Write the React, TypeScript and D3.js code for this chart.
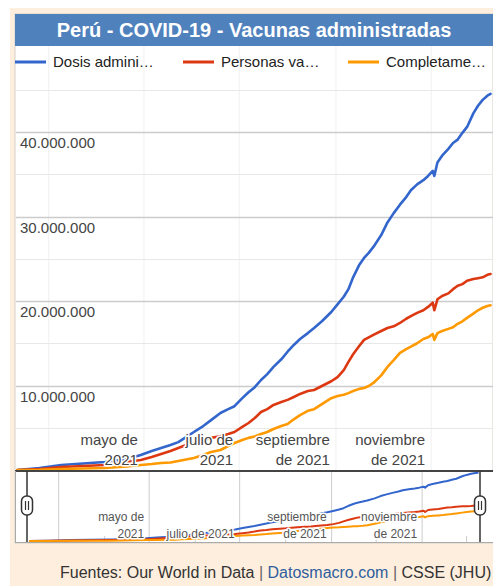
import React from 'react'
import * as d3 from 'd3'

// fechas de los datos (2021)
const fechas = [
  '2021-02-09', '2021-02-23', '2021-03-09', '2021-03-23', '2021-04-06', '2021-04-20', '2021-04-29',
  '2021-05-06', '2021-05-12', '2021-05-18', '2021-05-23', '2021-05-28', '2021-06-02', '2021-06-08',
  '2021-06-13', '2021-06-19', '2021-06-24', '2021-06-28', '2021-07-03', '2021-07-07', '2021-07-11',
  '2021-07-15', '2021-07-19', '2021-07-23', '2021-07-28', '2021-08-01', '2021-08-05', '2021-08-09',
  '2021-08-14', '2021-08-18', '2021-08-23', '2021-08-29', '2021-09-02', '2021-09-06', '2021-09-09',
  '2021-09-12', '2021-09-16', '2021-09-19', '2021-09-22', '2021-09-25', '2021-09-30', '2021-10-04',
  '2021-10-08', '2021-10-12', '2021-10-16', '2021-10-19', '2021-10-23', '2021-10-27', '2021-10-30',
  '2021-11-02', '2021-11-03', '2021-11-05', '2021-11-08', '2021-11-12', '2021-11-15', '2021-11-18',
  '2021-11-21', '2021-11-24', '2021-11-28', '2021-12-01', '2021-12-04', '2021-12-07', '2021-12-09',
]

// millones
const dosisAdministradas = [
  0, 0.24, 0.59, 0.77, 0.95, 1.3, 1.78,
  2.25, 2.6, 2.96, 3.3, 3.9, 4.5, 5.2,
  5.9, 6.75, 7.2, 7.55, 8.5, 9.2, 9.8,
  10.65, 11.35, 12.2, 13.1, 14.0, 14.8, 15.5,
  16.2, 16.8, 17.6, 18.7, 19.6, 20.5, 21.4,
  22.8, 24.3, 25.1, 25.7, 26.4, 27.8, 29.3,
  30.4, 31.4, 32.3, 33.1, 33.8, 34.3, 34.8,
  35.4, 34.8, 36.4, 37.2, 38.0, 38.7, 39.1,
  39.9, 40.6, 42.2, 43.1, 43.8, 44.3, 44.5,
]

const personasVacunadas = [
  0, 0.12, 0.36, 0.47, 0.6, 0.95, 1.18,
  1.54, 1.9, 2.25, 2.6, 2.96, 3.2, 3.55,
  3.8, 4.0, 4.26, 4.5, 5.1, 5.56, 6.15,
  6.86, 7.2, 7.7, 8.05, 8.3, 8.64, 9.0,
  9.35, 9.47, 9.94, 10.5, 11.0, 11.83, 12.8,
  13.7, 14.7, 15.4, 15.7, 16.0, 16.45, 16.8,
  17.0, 17.4, 17.9, 18.2, 18.6, 18.9, 19.3,
  19.8, 18.9, 20.2, 20.6, 20.9, 21.4, 21.8,
  22.0, 22.4, 22.6, 22.7, 22.8, 23.1, 23.2,
]

const completamenteVacunadas = [
  0, 0.03, 0.12, 0.18, 0.24, 0.41, 0.6,
  0.71, 0.83, 0.89, 1.07, 1.24, 1.42, 1.78,
  2.13, 2.37, 2.84, 3.2, 3.55, 3.8, 3.96,
  4.26, 4.5, 4.85, 5.2, 5.44, 6.0, 6.5,
  7.0, 7.2, 7.8, 8.5, 8.75, 8.9, 9.1,
  9.35, 9.6, 9.7, 9.94, 10.3, 11.2, 12.2,
  13.0, 13.85, 14.3, 14.6, 15.0, 15.5, 15.7,
  16.1, 15.4, 16.2, 16.45, 16.7, 16.9, 17.3,
  17.6, 18.0, 18.5, 18.9, 19.2, 19.4, 19.5,
]

const series = ['Dosis admini…', 'Personas va…', 'Completame…']
const colores = ['#3366cc', '#dc3912', '#ff9900']
const ticksY = [10, 20, 30, 40]
const etiquetasX = [
  { mes: '2021-05-01', lineas: ['mayo de', '2021'] },
  { mes: '2021-07-01', lineas: ['julio de', '2021'] },
  { mes: '2021-09-01', lineas: ['septiembre', 'de 2021'] },
  { mes: '2021-11-01', lineas: ['noviembre', 'de 2021'] },
]
const etiquetasNav = [
  { mes: '2021-05-01', lineas: ['mayo de', '2021'] },
  { mes: '2021-07-01', lineas: ['julio de 2021'] },
  { mes: '2021-09-01', lineas: ['septiembre', 'de 2021'] },
  { mes: '2021-11-01', lineas: ['noviembre', 'de 2021'] },
]

const W = 493
const H = 586
const FONT = 'Arial, "Liberation Sans", sans-serif'

const App = () => {
  const parse = d3.timeParse('%Y-%m-%d')
  const dates = fechas.map((f) => parse(f) as Date)
  const valores = [dosisAdministradas, personasVacunadas, completamenteVacunadas]
  const dominio = d3.extent(dates) as [Date, Date]

  const fmt = d3.formatLocale({ decimal: ',', thousands: '.', grouping: [3], currency: ['', ''] }).format(',')

  // grafico principal
  const x = d3.scaleTime().domain(dominio).range([17.5, 490.5])
  const y = d3.scaleLinear().domain([0, 50]).range([470, 47.5])
  // navegador
  const xn = d3.scaleTime().domain(dominio).range([29, 478.5])
  const yn = d3.scaleLinear().domain([0, 45]).range([541, 472])

  const linea = d3.line<number>().x((d, i) => x(dates[i])).y((d) => y(d))
  const lineaNav = d3.line<number>().x((d, i) => xn(dates[i])).y((d) => yn(d))

  const meses2 = d3.timeMonth.every(2)!.range(d3.timeMonth.floor(dominio[0]), dominio[1])
  const meses = d3.timeMonth.range(d3.timeMonth.ceil(dominio[0]), dominio[1])
  const gridY = d3.range(5, 50, 5)

  return (
    <div style={{ position: 'absolute', left: 0, top: 0 }}>
      <svg width={W} height={H} style={{ display: 'block', fontFamily: FONT }}>
        <rect x={0} y={0} width={W} height={H} fill="#fff" />
        <rect x={10} y={8} width={W - 10} height={H - 8} fill="#fdeedd" />
        <rect x={15} y={14} width={W - 15} height={529} fill="#fff" stroke="#d6d0c8" strokeWidth={1} />

        {/* titulo */}
        <rect x={15} y={14} width={W - 15} height={32} fill="#4f81bd" />
        <text x={254} y={36.5} textAnchor="middle" fill="#fff" fontWeight="bold" fontSize={20}>
          Perú - COVID-19 - Vacunas administradas
        </text>

        {/* rejilla */}
        {meses2.map((m, i) => (
          <line key={'v' + i} x1={x(m)} x2={x(m)} y1={46} y2={470} stroke="#f0f0f0" />
        ))}
        {gridY.map((v) => (
          <line key={'h' + v} x1={16} x2={W} y1={Math.round(y(v)) + 0.5} y2={Math.round(y(v)) + 0.5}
            stroke={v % 10 === 0 ? '#cccccc' : '#e8e8e8'} strokeWidth={v % 10 === 0 ? 1.5 : 1} />
        ))}

        {/* leyenda */}
        {series.map((s, i) => {
          const lx = [15, 183, 348][i]
          return (
            <g key={s}>
              <line x1={lx} x2={lx + 31} y1={62} y2={62} stroke={colores[i]} strokeWidth={3} />
              <text x={lx + 38} y={67} fontSize={15} fill="#222">{s}</text>
            </g>
          )
        })}

        {/* etiquetas eje Y */}
        {ticksY.map((v) => (
          <text key={v} x={20} y={y(v) + 16} fontSize={15} fill="#444">{fmt(v * 1e6)}</text>
        ))}

        {/* lineas */}
        {valores.map((vals, i) => (
          <path key={i} d={linea(vals) || ''} fill="none" stroke={colores[i]} strokeWidth={2.6}
            strokeLinejoin="round" strokeLinecap="round" />
        ))}

        {/* etiquetas eje X */}
        {etiquetasX.map((e) => {
          const px = x(parse(e.mes) as Date) - 6
          return (
            <text key={e.mes} textAnchor="end" fontSize={15} fill="#444" stroke="#fff" strokeWidth={3}
              paintOrder="stroke" strokeLinejoin="round">
              {e.lineas.map((l, j) => (
                <tspan key={j} x={px} y={445 + j * 20}>{l}</tspan>
              ))}
            </text>
          )
        })}

        {/* navegador */}
        <rect x={15} y={471} width={W - 15} height={71} fill="#fff" />
        {meses.map((m, i) => {
          const mayor = m.getMonth() % 2 === 0
          return mayor ? (
            <line key={'n' + i} x1={xn(m)} x2={xn(m)} y1={471} y2={542} stroke="#cccccc" />
          ) : (
            <line key={'n' + i} x1={xn(m)} x2={xn(m)} y1={536} y2={542} stroke="#cccccc" />
          )
        })}
        {valores.map((vals, i) => (
          <path key={'nl' + i} d={lineaNav(vals) || ''} fill="none" stroke={colores[i]} strokeWidth={2}
            strokeLinejoin="round" />
        ))}
        {etiquetasNav.map((e) => {
          const px = xn(parse(e.mes) as Date) - 5
          const base = e.lineas.length === 2 ? 521 : 537.5
          return (
            <text key={'en' + e.mes} textAnchor="end" fontSize={12} fill="#555" stroke="#fff" strokeWidth={3}
              paintOrder="stroke" strokeLinejoin="round">
              {e.lineas.map((l, j) => (
                <tspan key={j} x={px} y={base + j * 16.5}>{l}</tspan>
              ))}
            </text>
          )
        })}
        <line x1={15} x2={W} y1={471} y2={471} stroke="#444" strokeWidth={2} />
        <line x1={15} x2={W} y1={542.5} y2={542.5} stroke="#aaa" strokeWidth={1} />
        <line x1={15.5} x2={15.5} y1={471} y2={543} stroke="#aaa" strokeWidth={1} />
        {[27, 480].map((hx) => (
          <g key={'h' + hx}>
            <line x1={hx} x2={hx} y1={471} y2={542} stroke="#333" strokeWidth={1.5} />
            <rect x={hx - 5.5} y={496} width={11} height={19} rx={5} fill="#fff" stroke="#333" strokeWidth={1.5} />
            <line x1={hx - 1.5} x2={hx - 1.5} y1={501} y2={510} stroke="#333" strokeWidth={1.2} />
            <line x1={hx + 1.5} x2={hx + 1.5} y1={501} y2={510} stroke="#333" strokeWidth={1.2} />
          </g>
        ))}

        {/* fuentes */}
        <text x={60} y={578} fontSize={16} fill="#333">
          Fuentes: Our World in Data <tspan fill="#666">|</tspan>{' '}
          <tspan fill="#2f5f9e">Datosmacro.com</tspan> <tspan fill="#666">|</tspan> CSSE (JHU)
        </text>
      </svg>
    </div>
  )
}

export default App
